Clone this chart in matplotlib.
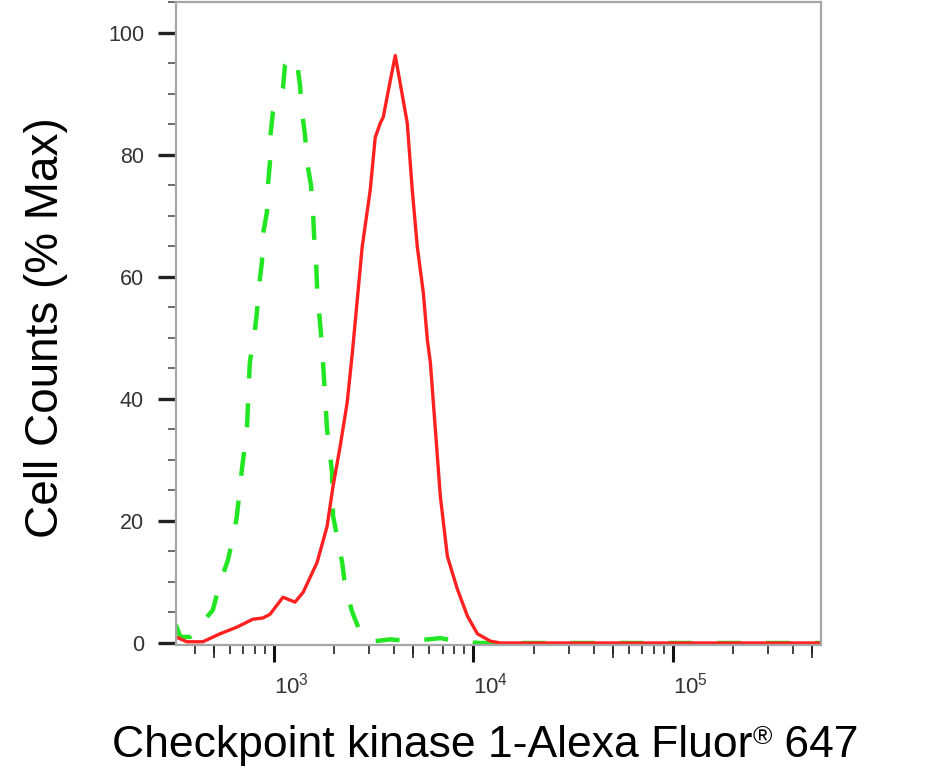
import numpy as np
from matplotlib import pyplot as plt
from matplotlib import font_manager
from matplotlib.ticker import LogLocator, NullFormatter, NullLocator, MultipleLocator
from matplotlib.offsetbox import TextArea, HPacker, AnchoredOffsetbox

installed = {f.name for f in font_manager.fontManager.ttflist}
narrow = 'Liberation Sans Narrow' in installed
tick_font = 'Liberation Sans Narrow' if narrow else 'Liberation Sans'

plt.rcParams['font.family'] = ['Liberation Sans', 'DejaVu Sans']
plt.rcParams['mathtext.fontset'] = 'custom'
plt.rcParams['mathtext.rm'] = tick_font
plt.rcParams['mathtext.it'] = tick_font + ':italic'
plt.rcParams['mathtext.bf'] = tick_font + ':bold'

# stained sample (red, solid)
sample_x = [322, 366, 440, 536, 652, 784, 880, 955, 1110, 1275, 1400, 1645, 1846, 1978,
            2146, 2328, 2470, 2768, 3036, 3219, 3410, 3530, 3829, 4056, 4297, 4659, 4936,
            5232, 5607, 5873, 6080, 6442, 6825, 7401, 8310, 9330, 10470, 12170, 13670,
            20000, 50000, 100000, 300000, 552000]
sample_y = [1.0, 0.2, 0.2, 1.5, 2.6, 3.9, 4.1, 4.7, 7.5, 6.7, 8.3, 13.2, 19.1, 25.7,
            32.2, 39.4, 47.5, 64.9, 74.2, 82.9, 85.2, 86.2, 92.2, 96.3, 91.7, 85.2, 74.2,
            64.9, 57.4, 49.7, 46.0, 35.0, 24.0, 14.2, 8.8, 4.4, 1.5, 0.3, 0.0,
            0.0, 0.0, 0.0, 0.0, 0.0]

# isotype control (green, dashed)
control_x = [322, 340, 380, 411, 494, 536, 588, 630, 652, 691, 732, 757, 803, 822, 841,
             871, 880, 922, 933, 955, 960, 988, 1110, 1136, 1217, 1305, 1351, 1383, 1432,
             1466, 1534, 1571, 1588, 1626, 1645, 1683, 1722, 1762, 1846, 1955, 1978, 2073,
             2197, 2274, 2466, 2704, 3036, 3829, 4820, 6825, 8602, 10850, 552000]
control_y = [3.0, 1.0, 1.0, 2.3, 5.4, 9.8, 13.6, 18.0, 20.8, 28.5, 35.0, 46.0, 51.3, 54.3,
             58.4, 62.5, 66.9, 70.6, 75.0, 78.8, 83.2, 87.0, 91.0, 94.7, 96.0, 95.2, 91.4,
             87.0, 83.2, 78.8, 75.0, 70.6, 66.9, 62.5, 58.4, 54.3, 50.5, 46.0, 35.0, 28.0,
             20.8, 17.5, 13.2, 9.3, 5.1, 1.8, 0.2, 0.6, 0.3, 0.8, 0.2, 0.0, 0.0]

x_limits = (322.8, 552000)
y_limits = (-0.33, 105)
y_major = 20
y_minor = 5
five_ticks = [500, 5000, 50000, 500000]

x_title_parts = ['Checkpoint kinase 1-Alexa Fluor', '®', ' 647']
y_title = 'Cell Counts (% Max)'


def plot_histograms():
    fig = plt.figure(figsize=(9.41, 7.76), dpi=100)
    ax = fig.add_axes([0.187, 0.1688, 0.6855, 0.828])

    ax.plot(control_x, control_y, color='#22e622', lw=3.2, linestyle=(0, (5.4, 5.6)),
            dash_capstyle='butt')
    ax.plot(sample_x, sample_y, color='#ff2020', lw=2.4)

    ax.set_xscale('log')
    ax.set_xlim(*x_limits)
    ax.set_ylim(*y_limits)

    ax.xaxis.set_major_locator(LogLocator(base=10, numticks=10))
    ax.xaxis.set_minor_locator(LogLocator(base=10, subs=np.arange(2, 10), numticks=20))
    ax.xaxis.set_minor_formatter(NullFormatter())
    ax.yaxis.set_major_locator(MultipleLocator(y_major))
    ax.yaxis.set_minor_locator(MultipleLocator(y_minor))

    for side in ['left', 'right', 'top', 'bottom']:
        ax.spines[side].set_color('#a6a6a6')
        ax.spines[side].set_linewidth(1.6)

    xsize = 16
    ysize = 17 if narrow else 15.5
    ax.tick_params(axis='x', which='major', length=12, width=2.2, color='#111111',
                   labelsize=xsize, labelcolor='#333333', pad=8)
    ax.tick_params(axis='x', which='minor', length=6.5, width=1.2, color='#222222')
    ax.tick_params(axis='y', which='major', length=13, width=2.4, color='#222222',
                   labelsize=ysize, labelcolor='#333333', pad=10)
    ax.tick_params(axis='y', which='minor', length=6, width=1.1, color='#444444')
    for label in ax.get_xticklabels() + ax.get_yticklabels():
        label.set_fontfamily(tick_font)
    for label in ax.get_xticklabels():
        label.set_horizontalalignment('left')

    # the 5x ticks are drawn a bit longer
    sec = ax.secondary_xaxis('bottom')
    sec.set_xticks(five_ticks)
    sec.set_xticklabels([''] * len(five_ticks))
    sec.xaxis.set_minor_locator(NullLocator())
    sec.spines['bottom'].set_visible(False)
    sec.tick_params(axis='x', which='major', length=9.5, width=1.2, color='#222222')

    ax.set_ylabel(y_title, fontsize=33, color='black')
    ax.yaxis.set_label_coords(-0.168, 0.4946)

    # x title with a small raised registered sign
    sizes = [32, 19, 32]
    parts = [TextArea(t, textprops=dict(fontsize=s, color='black'))
             for t, s in zip(x_title_parts, sizes)]
    title_box = HPacker(children=parts, align='top', pad=0, sep=0)
    anchored = AnchoredOffsetbox(loc='upper center', child=title_box, pad=0, borderpad=0,
                                 frameon=False, bbox_to_anchor=(485 / 941, 1 - 725 / 776),
                                 bbox_transform=fig.transFigure)
    fig.add_artist(anchored)

    fig.savefig('out.png', dpi=100)


if __name__ == "__main__":
    plot_histograms()
